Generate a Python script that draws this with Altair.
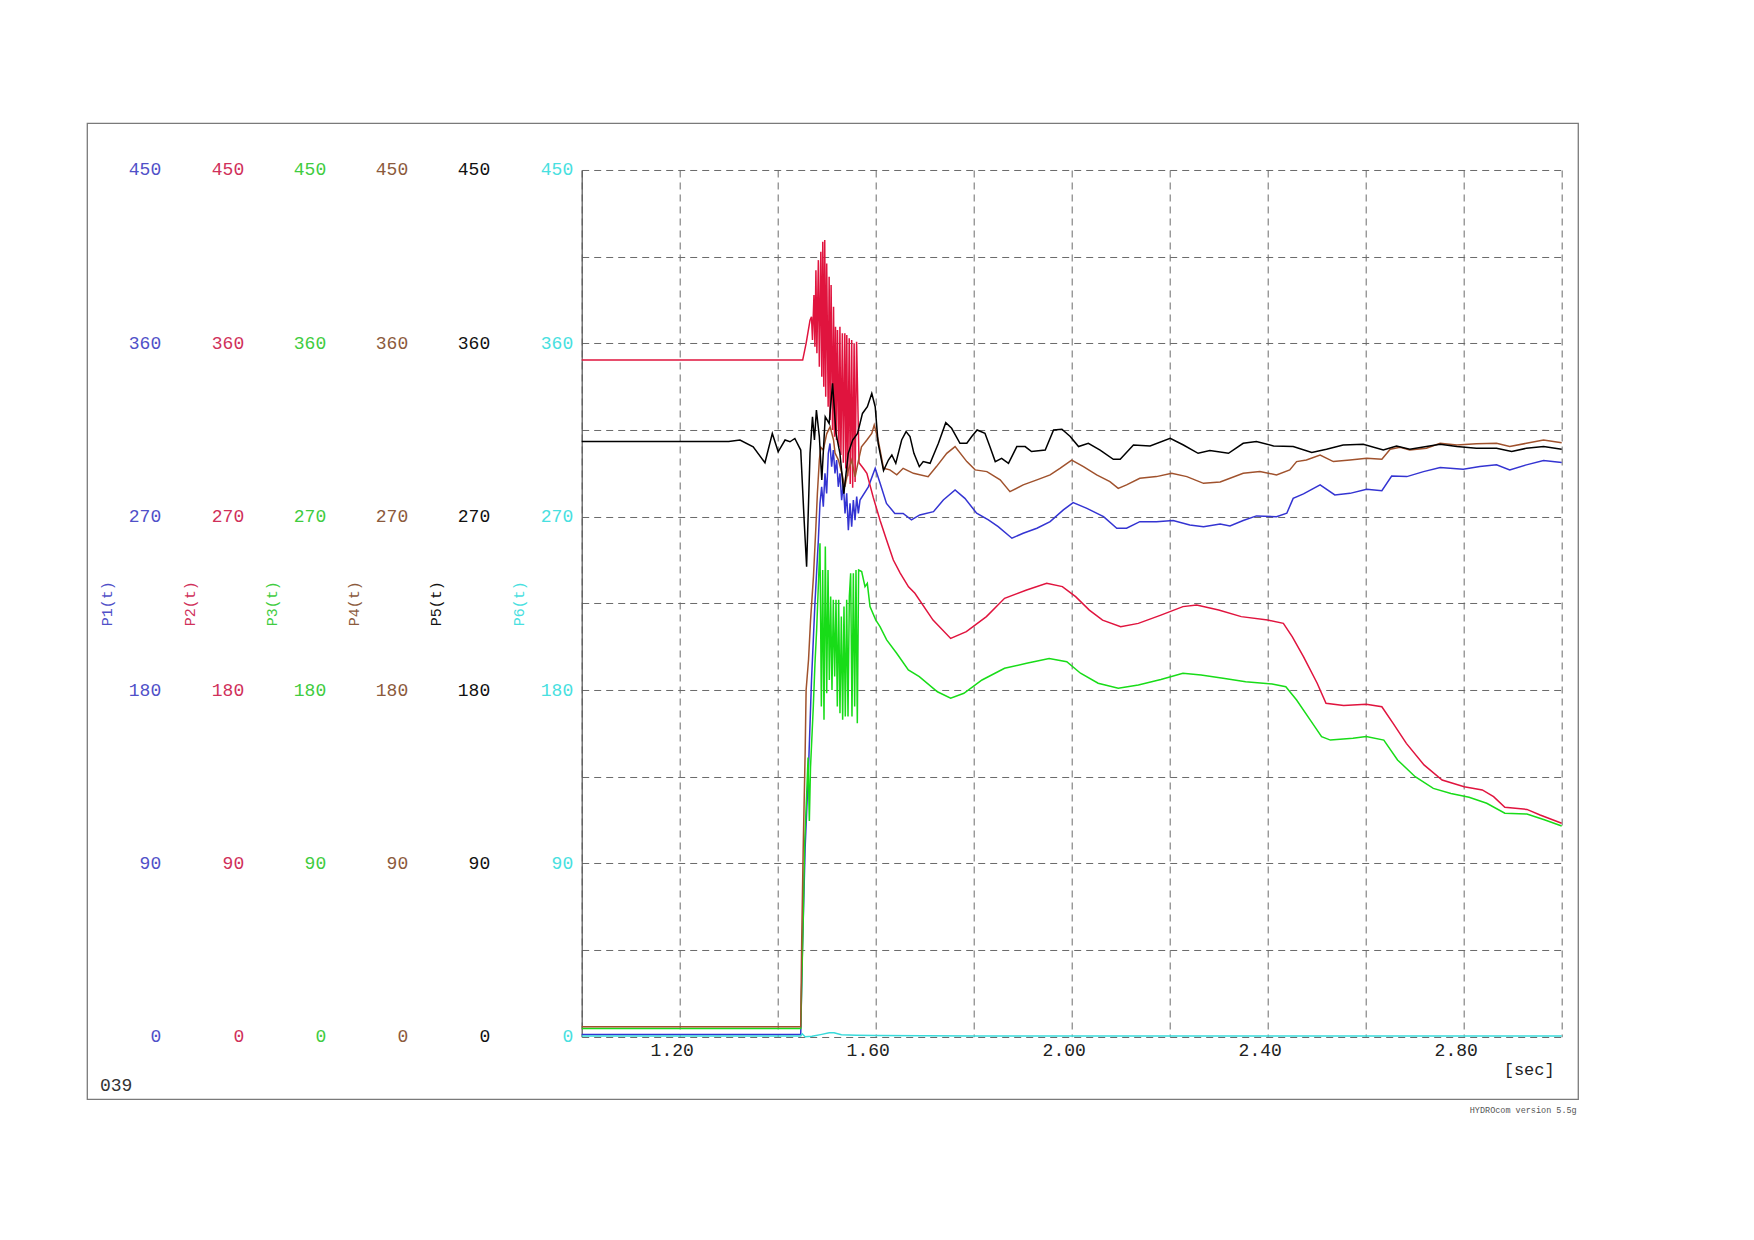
import altair as alt
import pandas as pd

# ---------------- data ----------------
p1_t = [1.000, 1.447, 1.450, 1.456, 1.463, 1.469, 1.476, 1.483, 1.4863, 1.4897, 1.4931, 1.4965, 1.4999,
        1.5033, 1.5067, 1.5101, 1.5135, 1.5169, 1.5203, 1.5237, 1.5271, 1.5305, 1.5340, 1.5374, 1.5408,
        1.5442, 1.5476, 1.5510, 1.5544, 1.5578, 1.5612, 1.5646, 1.5680, 1.585, 1.599, 1.609, 1.622, 1.639,
        1.656, 1.673, 1.690, 1.718, 1.738, 1.762, 1.782, 1.806, 1.830, 1.850, 1.878, 1.901, 1.929, 1.956,
        1.983, 2.003, 2.031, 2.065, 2.092, 2.112, 2.139, 2.173, 2.207, 2.241, 2.269, 2.303, 2.323, 2.350,
        2.377, 2.418, 2.439, 2.452, 2.473, 2.507, 2.537, 2.568, 2.602, 2.633, 2.653, 2.684, 2.718, 2.752,
        2.799, 2.833, 2.867, 2.894, 2.928, 2.963, 3.000]
p1_v = [1.2, 1.2, 40, 98, 140, 185, 225, 258, 276.9, 285.5, 275.2, 292.5, 282.1,
        302.9, 308.0, 295.9, 304.6, 292.5, 299.4, 285.5, 292.5, 278.6, 287.3, 271.7, 282.1,
        263.0, 276.9, 264.8, 278.6, 268.2, 280.4, 271.7, 278.6, 285.5, 295.1, 287.3, 276.9, 271.7,
        271.7, 268.3, 270.9, 272.6, 278.7, 283.9, 279.5, 271.8, 268.3, 264.8, 258.8, 261.4, 264.0, 267.4,
        273.5, 277.3, 274.3, 270.0, 264.0, 264.0, 267.4, 267.4, 268.0, 265.7, 264.8, 266.2, 265.2, 268.0,
        270.4, 270.0, 271.8, 279.5, 281.8, 286.5, 281.3, 282.1, 284.2, 283.5, 291.1, 290.8, 293.4, 295.5,
        294.6, 296.0, 296.9, 294.3, 296.9, 299.1, 298.1]

p2_t = [1.000, 1.451, 1.458, 1.466, 1.469, 1.471, 1.474, 1.476, 1.478, 1.480, 1.483, 1.485, 1.488, 1.490,
        1.492, 1.494, 1.496, 1.498, 1.500, 1.503, 1.505, 1.507, 1.509, 1.512, 1.514, 1.516, 1.518, 1.520,
        1.522, 1.525, 1.527, 1.529, 1.532, 1.534, 1.537, 1.539, 1.541, 1.543, 1.546, 1.548, 1.551, 1.553,
        1.556, 1.558, 1.561, 1.566, 1.575, 1.582, 1.595, 1.609, 1.622, 1.636, 1.650, 1.667, 1.680, 1.717,
        1.753, 1.785, 1.826, 1.863, 1.908, 1.949, 1.981, 2.008, 2.036, 2.063, 2.100, 2.136, 2.182, 2.227,
        2.255, 2.300, 2.346, 2.400, 2.432, 2.450, 2.473, 2.501, 2.519, 2.555, 2.601, 2.633, 2.656, 2.683,
        2.719, 2.756, 2.801, 2.838, 2.861, 2.884, 2.929, 2.956, 3.000]
p2_v = [351.3, 351.3, 360.0, 372.0, 373.8, 361.7, 385.1, 358.2, 398.0, 354.8, 403.2, 347.8, 407.6, 342.7,
        412.8, 337.5, 413.6, 332.3, 401.5, 327.1, 394.6, 320.2, 390.3, 315.0, 379.0, 311.5, 368.6, 309.8,
        366.9, 306.0, 368.6, 302.0, 365.2, 298.0, 365.2, 295.0, 364.3, 291.0, 362.6, 287.0, 361.7, 285.0,
        360.0, 288.0, 360.8, 298.0, 295.0, 292.5, 280.0, 268.0, 258.0, 247.5, 240.7, 233.6, 230.2, 216.3,
        206.8, 210.3, 218.1, 227.6, 231.9, 235.4, 233.7, 228.5, 221.5, 216.3, 212.9, 214.6, 218.9, 223.3,
        224.1, 221.5, 218.1, 216.3, 214.6, 207.7, 197.3, 183.5, 173.1, 171.9, 172.6, 171.3, 162.7, 152.3,
        141.1, 133.3, 129.8, 128.1, 124.6, 119.1, 118.0, 115.1, 110.8]

p3_t = [1.000, 1.447, 1.452, 1.455, 1.459, 1.462, 1.4646, 1.467, 1.4727, 1.4761, 1.4795, 1.4829, 1.4863,
        1.4891, 1.4918, 1.4945, 1.4972, 1.5000, 1.5027, 1.5054, 1.5081, 1.5108, 1.5135, 1.5163, 1.5190,
        1.5217, 1.5244, 1.5271, 1.5299, 1.5326, 1.5353, 1.5380, 1.5408, 1.5435, 1.5462, 1.5489, 1.5516,
        1.5544, 1.5571, 1.5598, 1.5625, 1.5652, 1.5714, 1.5782, 1.5829, 1.5884, 1.600, 1.6088, 1.6224,
        1.6428, 1.6666, 1.689, 1.726, 1.753, 1.780, 1.817, 1.863, 1.908, 1.954, 1.990, 2.018, 2.054, 2.095,
        2.136, 2.182, 2.227, 2.264, 2.309, 2.355, 2.409, 2.437, 2.459, 2.487, 2.510, 2.528, 2.574, 2.601,
        2.637, 2.665, 2.701, 2.738, 2.774, 2.811, 2.847, 2.884, 2.929, 2.966, 3.000]
p3_v = [4.2, 4.2, 60, 100, 125, 145, 112, 140, 171.4, 193.9, 211.2, 233.7, 256.2,
        171.4, 242.3, 164.5, 254.5, 178.3, 242.3, 185.2, 228.5, 180.0, 226.8, 187.0, 226.8,
        171.4, 226.8, 167.9, 218.1, 164.5, 223.3, 166.2, 226.8, 166.2, 228.5, 240.6, 166.2,
        240.6, 171.4, 242.3, 162.7, 242.3, 241.5, 233.7, 235.4, 223.3, 216.4, 212.9, 206.0,
        199.1, 190.4, 186.9, 179.1, 175.7, 178.3, 185.2, 191.3, 193.9, 196.4, 194.7, 188.7, 183.5, 180.9,
        182.6, 185.5, 188.7, 187.8, 186.1, 184.3, 183.1, 181.7, 174.8, 164.4, 155.8, 154.0, 154.9, 155.8,
        154.0, 143.7, 135.0, 128.9, 126.3, 124.3, 121.2, 116.0, 115.6, 112.5, 109.4]

p4_t = [1.000, 1.447, 1.449, 1.452, 1.456, 1.458, 1.463, 1.467, 1.473, 1.478, 1.481, 1.485, 1.488, 1.493,
        1.500, 1.507, 1.514, 1.517, 1.524, 1.531, 1.537, 1.544, 1.551, 1.558, 1.565, 1.571, 1.582, 1.592,
        1.597, 1.605, 1.616, 1.629, 1.643, 1.656, 1.677, 1.707, 1.724, 1.745, 1.762, 1.786, 1.803, 1.827,
        1.854, 1.874, 1.901, 1.929, 1.956, 1.976, 2.000, 2.024, 2.051, 2.078, 2.095, 2.112, 2.139, 2.173,
        2.204, 2.235, 2.269, 2.303, 2.350, 2.384, 2.418, 2.445, 2.459, 2.479, 2.507, 2.534, 2.568, 2.602,
        2.633, 2.650, 2.670, 2.690, 2.724, 2.752, 2.786, 2.826, 2.867, 2.894, 2.928, 2.963, 3.000]
p4_v = [5.2, 5.2, 50, 97, 147, 180, 196, 216, 239, 265, 282, 299.4, 306.0, 304.6,
        313.0, 316.7, 309.8, 303.0, 299.4, 292.5, 285.5, 294.0, 299.4, 290.7, 299.4, 306.3, 309.8, 313.2,
        317.6, 309.8, 295.1, 294.3, 291.7, 295.1, 292.5, 290.8, 296.0, 302.9, 306.4, 298.6, 294.3, 293.4,
        289.1, 283.0, 286.5, 289.1, 291.7, 295.1, 299.4, 296.0, 291.7, 288.2, 284.7, 286.5, 289.9, 290.8,
        292.5, 290.8, 287.3, 288.0, 292.5, 293.4, 291.7, 294.3, 298.6, 299.4, 302.0, 298.6, 299.4, 300.3,
        299.8, 305.0, 306.0, 304.6, 305.5, 308.1, 307.2, 307.8, 308.1, 306.4, 308.1, 309.8, 308.4]

p5_t = [1.000, 1.300, 1.323, 1.350, 1.374, 1.389, 1.401, 1.415, 1.425, 1.435, 1.447, 1.454, 1.459, 1.466,
        1.471, 1.475, 1.479, 1.485, 1.490, 1.497, 1.505, 1.512, 1.519, 1.527, 1.535, 1.544, 1.553, 1.563,
        1.573, 1.583, 1.592, 1.599, 1.605, 1.616, 1.626, 1.633, 1.641, 1.653, 1.662, 1.670, 1.678, 1.689,
        1.697, 1.711, 1.728, 1.743, 1.755, 1.772, 1.786, 1.796, 1.807, 1.823, 1.833, 1.844, 1.857, 1.871,
        1.888, 1.905, 1.918, 1.946, 1.963, 1.980, 1.997, 2.014, 2.034, 2.058, 2.085, 2.099, 2.126, 2.160,
        2.201, 2.228, 2.258, 2.282, 2.320, 2.350, 2.377, 2.412, 2.452, 2.490, 2.520, 2.554, 2.595, 2.636,
        2.663, 2.690, 2.724, 2.752, 2.786, 2.826, 2.867, 2.898, 2.928, 2.963, 3.000]
p5_v = [309.0, 309.0, 309.8, 306.3, 298.0, 313.2, 303.7, 309.8, 308.9, 310.6, 304.6, 268.0, 244.0, 302.9,
        321.9, 309.8, 325.3, 311.5, 289.0, 321.9, 318.4, 339.2, 313.2, 302.9, 282.0, 302.9, 309.8, 313.2,
        323.6, 327.1, 334.0, 327.1, 308.0, 293.9, 299.4, 302.0, 297.7, 309.8, 314.2, 311.6, 302.9, 296.0,
        298.6, 297.7, 308.1, 318.8, 315.9, 308.1, 308.1, 311.6, 315.0, 313.3, 306.4, 298.6, 300.3, 297.7,
        306.4, 306.4, 303.8, 304.6, 315.0, 315.4, 311.6, 306.4, 308.1, 304.6, 299.8, 299.8, 307.2, 306.7,
        310.7, 307.2, 302.9, 304.3, 302.9, 308.1, 309.0, 306.7, 306.4, 303.3, 305.0, 307.2, 307.6, 304.6,
        306.7, 305.0, 306.4, 307.6, 306.4, 305.5, 305.5, 303.8, 305.5, 306.4, 305.0]

p6_t = [1.000, 1.447, 1.450, 1.456, 1.470, 1.490, 1.505, 1.515, 1.530, 1.560, 1.600, 1.800, 3.000]
p6_v = [0.4, 0.4, 1.5, 0.0, 0.2, 1.2, 2.0, 2.0, 1.0, 0.8, 0.6, 0.4, 0.4]

names = ["P1(t)", "P2(t)", "P3(t)", "P4(t)", "P5(t)", "P6(t)"]
line_colors = ["#3434d2", "#e0143e", "#18dc18", "#a0522d", "#000000", "#38dada"]
label_colors = ["#5050c8", "#d0305a", "#40cc40", "#8b5a3c", "#111111", "#48e0e0"]
y_ticks = [0, 90, 180, 270, 360, 450]
y_grid_ticks = [0, 45, 90, 135, 180, 225, 270, 315, 360, 405, 450]
x_ticks = [1.0, 1.2, 1.4, 1.6, 1.8, 2.0, 2.2, 2.4, 2.6, 2.8, 3.0]
x_labels = ["1.20", "1.60", "2.00", "2.40", "2.80"]

series_t = [p1_t, p2_t, p3_t, p4_t, p5_t, p6_t]
series_v = [p1_v, p2_v, p3_v, p4_v, p5_v, p6_v]

FONT = "Liberation Mono"
offsets = [412, 329, 247, 165, 83, 0]

label_expr_x = "indexof(" + str(x_labels).replace(" ", "") + ", datum.label) >= 0 ? datum.label : ''"

x_enc = alt.X(
    "t:Q",
    scale=alt.Scale(domain=[1.0, 3.0], nice=False, zero=False),
    axis=alt.Axis(values=x_ticks, format=".2f", labelExpr=label_expr_x, grid=True,
                  gridDash=[7, 5], gridColor="#6a6a6a", gridWidth=1, domain=False,
                  ticks=False, tickSize=0, labelPadding=5, labelOffset=-8, labelFont=FONT,
                  labelFontSize=18, labelColor="#222222"),
    title=None,
)

layers = []
for i in range(6):
    df = pd.DataFrame({"t": series_t[i], "v": series_v[i]})
    is_last = i == 5
    axis_kw = dict(
        orient="left", offset=offsets[i], ticks=False, tickSize=0, labelPadding=9,
        labelFont=FONT, labelFontSize=18, labelColor=label_colors[i],
        titleFont=FONT, titleFontSize=15, titleFontWeight="normal", titleColor=label_colors[i],
        titlePadding=14,
    )
    if is_last:
        axis_kw.update(values=y_grid_ticks, grid=True, gridDash=[7, 5], gridColor="#6a6a6a",
                       gridWidth=1, domain=True, domainColor="#555555", domainWidth=1.2,
                       labelExpr="datum.value % 90 == 0 ? datum.label : ''")
    else:
        axis_kw.update(values=y_ticks, grid=False, domain=False)
    layer = alt.Chart(df).mark_line(color=line_colors[i], strokeWidth=1.5).encode(
        x=x_enc,
        y=alt.Y("v:Q", scale=alt.Scale(domain=[0, 450], nice=False),
                axis=alt.Axis(**axis_kw), title=names[i]),
        order="t:Q",
    )
    layers.append(layer)

# outer frame and free texts
frame = alt.Chart(pd.DataFrame({"a": [0]})).mark_rect(
    filled=False, stroke="#7a7a7a", strokeWidth=1.3
).encode(x=alt.value(-494.4), x2=alt.value(996.6), y=alt.value(-46.7), y2=alt.value(929.3))

txt_id = alt.Chart(pd.DataFrame({"s": ["039"]})).mark_text(
    font=FONT, fontSize=18, color="#333333", align="left", baseline="middle"
).encode(x=alt.value(-481.7), y=alt.value(916), text="s:N")

txt_sec = alt.Chart(pd.DataFrame({"s": ["[sec]"]})).mark_text(
    font=FONT, fontSize=17, color="#222222", align="right", baseline="middle"
).encode(x=alt.value(973), y=alt.value(900.5), text="s:N")

txt_ver = alt.Chart(pd.DataFrame({"s": ["HYDROcom version 5.5g"]})).mark_text(
    font=FONT, fontSize=8.5, color="#555555", align="right", baseline="middle"
).encode(x=alt.value(995), y=alt.value(940.5), text="s:N")

chart = alt.layer(*layers, frame, txt_id, txt_sec, txt_ver).resolve_scale(
    y="independent"
).properties(
    width=980, height=866.7,
    padding={"left": 573.7, "top": 162, "right": 180, "bottom": 100},
    autosize=alt.AutoSizeParams(type="none"),
    background="white",
).configure_view(strokeWidth=0)

chart.save("out.html", embed_options={"renderer": "svg", "actions": False})
